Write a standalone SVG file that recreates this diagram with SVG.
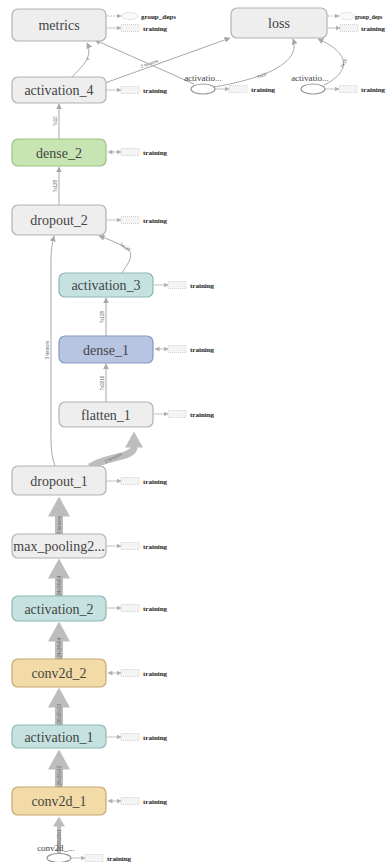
<svg xmlns="http://www.w3.org/2000/svg" width="388" height="862" viewBox="0 0 388 862">
<style>
.bg{fill:#ffffff}
.node{stroke-width:1.2}
.gray{fill:#eeeeee;stroke:#b2b2b2}
.green{fill:#c7e5b3;stroke:#98c282}
.teal{fill:#c5e2e0;stroke:#8db7b5}
.blue{fill:#b7c5e2;stroke:#8797c4}
.orange{fill:#f3dba8;stroke:#c8a76c}
.lbl{font-family:'Liberation Serif','Times New Roman',serif;font-size:14px;fill:#444;text-anchor:middle}
.olbl{font-family:'Liberation Serif','Times New Roman',serif;font-size:9px;fill:#444;text-anchor:middle}
.side{font-family:'Liberation Serif','Times New Roman',serif;font-size:7px;font-weight:bold;fill:#222}
.srect{fill:#f4f4f4;stroke:#c8c8c8;stroke-width:0.8;stroke-dasharray:1 1}
.sell{fill:#fafafa;stroke:#c8c8c8;stroke-width:0.8;stroke-dasharray:2 1}
.sline{stroke:#b0b0b0;stroke-width:0.8;fill:none}
.sdash{stroke:#b0b0b0;stroke-width:0.8;fill:none;stroke-dasharray:2 1}
.thin{stroke:#a8a8a8;stroke-width:1;fill:none}
.thick{stroke:#bdbdbd;stroke-width:8;fill:none}
.mid{stroke:#bdbdbd;stroke-width:7;fill:none}
.small{stroke:#bdbdbd;stroke-width:4;fill:none}
.elbl{font-family:'Liberation Sans',Arial,sans-serif;font-size:4.5px;fill:#666;text-anchor:middle}
.oval{fill:#ffffff;stroke:#999;stroke-width:1.2}
</style>
<defs>
<marker id="ah" markerUnits="userSpaceOnUse" viewBox="0 0 10 10" markerWidth="6" markerHeight="6" refX="9" refY="5" orient="auto"><path d="M0,0 L10,5 L0,10 z" fill="#a8a8a8"/></marker>
<marker id="ahs" markerUnits="userSpaceOnUse" viewBox="0 0 10 10" markerWidth="5" markerHeight="5" refX="9" refY="5" orient="auto"><path d="M0,0 L10,5 L0,10 z" fill="#b0b0b0"/></marker>
<marker id="ahsr" markerUnits="userSpaceOnUse" viewBox="0 0 10 10" markerWidth="5" markerHeight="5" refX="1" refY="5" orient="auto"><path d="M10,0 L0,5 L10,10 z" fill="#b0b0b0"/></marker>
<marker id="big" markerUnits="userSpaceOnUse" viewBox="0 0 20 22" markerWidth="20" markerHeight="22" refX="0.5" refY="11" orient="auto"><path d="M0,0 L20,11 L0,22 z" fill="#bdbdbd"/></marker>
<marker id="mbig" markerUnits="userSpaceOnUse" viewBox="0 0 16 18" markerWidth="16" markerHeight="18" refX="0.5" refY="9" orient="auto"><path d="M0,0 L16,9 L0,18 z" fill="#bdbdbd"/></marker>
<marker id="sbig" markerUnits="userSpaceOnUse" viewBox="0 0 10 12" markerWidth="10" markerHeight="12" refX="0.5" refY="6" orient="auto"><path d="M0,0 L10,6 L0,12 z" fill="#bdbdbd"/></marker>
</defs>
<rect class="bg" x="0" y="0" width="388" height="862"/>

<g id="connectors">
  <path class="thin" d="M72,77 C80,68 94,58 87,43" marker-end="url(#ah)"/>
  <text class="elbl" x="90" y="60" transform="rotate(-70 90 60)">?</text>
  <path class="thin" d="M105,83 L230,38" marker-end="url(#ah)"/>
  <text class="elbl" x="150" y="65" transform="rotate(-19 150 65)">2 tensors</text>
  <path class="thin" d="M194,84 L95,40" marker-end="url(#ah)"/>
  <path class="thin" d="M214,87 C255,80 302,66 293,39" marker-end="url(#ah)"/>
  <text class="elbl" x="262" y="77" transform="rotate(-20 262 77)">?x10</text>
  <path class="thin" d="M324,85 C347,74 355,55 318,39" marker-end="url(#ah)"/>
  <text class="elbl" x="345" y="64" transform="rotate(-65 345 64)">?x10</text>
  <path class="thin" d="M59,139 L59,104" marker-end="url(#ah)"/>
  <text class="elbl" x="57" y="121" transform="rotate(-90 57 121)">?x10</text>
  <path class="thin" d="M59,205 L59,167" marker-end="url(#ah)"/>
  <text class="elbl" x="57" y="186" transform="rotate(-90 57 186)">?x128</text>
  <path class="thin" d="M122,273 C128,263 136,254 126,248 C118,243 108,239 99,236" marker-end="url(#ah)"/>
  <text class="elbl" x="124" y="248" transform="rotate(35 124 248)">?x128</text>
  <path class="thin" d="M55,466 C50,452 51,440 51,420 L51,262 C51,250 52,244 54,236" marker-end="url(#ah)"/>
  <text class="elbl" x="49" y="350" transform="rotate(-90 49 350)">3 tensors</text>
  <path class="thin" d="M106,336 L106,298" marker-end="url(#ah)"/>
  <text class="elbl" x="104" y="317" transform="rotate(-90 104 317)">?x128</text>
  <path class="thin" d="M106,402 L106,364" marker-end="url(#ah)"/>
  <text class="elbl" x="104" y="383" transform="rotate(-90 104 383)">?x9216</text>
  <path class="mid" d="M90,467 C106,456 134,458 134,447" marker-end="url(#mbig)"/>
  <text class="elbl" x="114" y="459" transform="rotate(-25 114 459)">2 tensors</text>
  <path class="thick" d="M59,534 L59,516" marker-end="url(#big)"/>
  <text class="elbl" x="60.5" y="525" transform="rotate(-90 60.5 525)">2 tensors</text>
  <path class="thick" d="M59,596 L59,578" marker-end="url(#big)"/>
  <text class="elbl" x="60.5" y="588" transform="rotate(-90 60.5 588)">?x24x24x64</text>
  <path class="thick" d="M59,659 L59,641" marker-end="url(#big)"/>
  <text class="elbl" x="60.5" y="650" transform="rotate(-90 60.5 650)">?x24x24x64</text>
  <path class="thick" d="M59,725 L59,707" marker-end="url(#big)"/>
  <text class="elbl" x="60.5" y="716" transform="rotate(-90 60.5 716)">?x26x26x32</text>
  <path class="thick" d="M59,787 L59,769" marker-end="url(#big)"/>
  <text class="elbl" x="60.5" y="778" transform="rotate(-90 60.5 778)">?x26x26x32</text>
  <path class="small" d="M59,853 L59,826" marker-end="url(#sbig)"/>
  <text class="elbl" x="60.5" y="840" transform="rotate(-90 60.5 840)">?x28x28x1</text>
</g>

<g id="metrics">
  <rect class="node gray" x="12" y="9" width="94" height="32" rx="6"/>
  <text class="lbl" x="59" y="30">metrics</text>
  <path class="sdash" d="M107,16 L121,16" marker-end="url(#ahs)"/>
  <ellipse class="sell" cx="130" cy="16" rx="8" ry="3.5"/>
  <text class="side" x="141" y="18.5">group_deps</text>
  <path class="sline" d="M107,28 L121,28" marker-end="url(#ahs)"/>
  <rect class="srect" x="121" y="24.5" width="18" height="7"/>
  <text class="side" x="143" y="30.5">training</text>
</g>

<g id="loss">
  <rect class="node gray" x="231" y="8" width="96" height="30" rx="6"/>
  <text class="lbl" x="279" y="28">loss</text>
  <path class="sdash" d="M328,16 L339,16" marker-end="url(#ahs)"/>
  <ellipse class="sell" cx="347" cy="16" rx="7.5" ry="3.5"/>
  <text class="side" x="355" y="18.5" style="font-size:5.5px">group_deps</text>
  <path class="sline" d="M328,28 L340,28" marker-end="url(#ahs)"/>
  <rect class="srect" x="340" y="24.5" width="18" height="7"/>
  <text class="side" x="361" y="30.5">training</text>
</g>

<g id="activation_out_1">
  <text class="olbl" x="203" y="81">activatio...</text>
  <ellipse class="oval" cx="203" cy="89" rx="12" ry="5"/>
  <path class="sline" d="M215,89 L229,89" marker-end="url(#ahs)"/>
  <rect class="srect" x="229" y="85.5" width="18" height="7"/>
  <text class="side" x="251" y="91.5">training</text>
</g>

<g id="activation_out_2">
  <text class="olbl" x="310" y="81">activatio...</text>
  <ellipse class="oval" cx="313" cy="89" rx="12" ry="5"/>
  <path class="sline" d="M325,89 L339,89" marker-end="url(#ahs)"/>
  <rect class="srect" x="339" y="85.5" width="18" height="7"/>
  <text class="side" x="361" y="91.5">training</text>
</g>

<g id="activation_4">
  <rect class="node gray" x="12" y="77" width="94" height="26" rx="6"/>
  <text class="lbl" x="59" y="95">activation_4</text>
  <path class="sline" d="M107,90 L121,90" marker-end="url(#ahs)"/>
  <rect class="srect" x="121" y="86.5" width="18" height="7"/>
  <text class="side" x="143" y="92.5">training</text>
</g>

<g id="dense_2">
  <rect class="node green" x="12" y="139" width="94" height="27" rx="6"/>
  <text class="lbl" x="59" y="157.5">dense_2</text>
  <path class="sline" d="M108,152 L121,152" marker-start="url(#ahsr)" marker-end="url(#ahs)"/>
  <rect class="srect" x="121" y="148.5" width="18" height="7"/>
  <text class="side" x="143" y="154.5">training</text>
</g>

<g id="dropout_2">
  <rect class="node gray" x="12" y="205" width="94" height="30" rx="6"/>
  <text class="lbl" x="59" y="225">dropout_2</text>
  <path class="sline" d="M107,220 L121,220" marker-end="url(#ahs)"/>
  <rect class="srect" x="121" y="216.5" width="18" height="7"/>
  <text class="side" x="143" y="222.5">training</text>
</g>

<g id="activation_3">
  <rect class="node teal" x="59" y="273" width="94" height="24" rx="6"/>
  <text class="lbl" x="106" y="290">activation_3</text>
  <path class="sline" d="M154,285 L168,285" marker-end="url(#ahs)"/>
  <rect class="srect" x="168" y="281.5" width="18" height="7"/>
  <text class="side" x="190" y="287.5">training</text>
</g>

<g id="dense_1">
  <rect class="node blue" x="59" y="336" width="94" height="27" rx="6"/>
  <text class="lbl" x="106" y="354.5">dense_1</text>
  <path class="sline" d="M155,349 L168,349" marker-start="url(#ahsr)" marker-end="url(#ahs)"/>
  <rect class="srect" x="168" y="345.5" width="18" height="7"/>
  <text class="side" x="190" y="351.5">training</text>
</g>

<g id="flatten_1">
  <rect class="node gray" x="59" y="402" width="94" height="25" rx="6"/>
  <text class="lbl" x="106" y="419.5">flatten_1</text>
  <path class="sline" d="M154,414 L168,414" marker-end="url(#ahs)"/>
  <rect class="srect" x="168" y="410.5" width="18" height="7"/>
  <text class="side" x="190" y="416.5">training</text>
</g>

<g id="dropout_1">
  <rect class="node gray" x="12" y="466" width="94" height="29" rx="6"/>
  <text class="lbl" x="59" y="485.5">dropout_1</text>
  <path class="sline" d="M107,481 L121,481" marker-end="url(#ahs)"/>
  <rect class="srect" x="121" y="477.5" width="18" height="7"/>
  <text class="side" x="143" y="483.5">training</text>
</g>

<g id="max_pooling2d_1">
  <rect class="node gray" x="12" y="534" width="94" height="24" rx="6"/>
  <text class="lbl" x="59" y="551">max_pooling2...</text>
  <path class="sline" d="M107,546 L121,546" marker-end="url(#ahs)"/>
  <rect class="srect" x="121" y="542.5" width="18" height="7"/>
  <text class="side" x="143" y="548.5">training</text>
</g>

<g id="activation_2">
  <rect class="node teal" x="12" y="596" width="94" height="25" rx="6"/>
  <text class="lbl" x="59" y="613.5">activation_2</text>
  <path class="sline" d="M107,608 L121,608" marker-end="url(#ahs)"/>
  <rect class="srect" x="121" y="604.5" width="18" height="7"/>
  <text class="side" x="143" y="610.5">training</text>
</g>

<g id="conv2d_2">
  <rect class="node orange" x="12" y="659" width="94" height="28" rx="6"/>
  <text class="lbl" x="59" y="678">conv2d_2</text>
  <path class="sline" d="M108,673 L121,673" marker-start="url(#ahsr)" marker-end="url(#ahs)"/>
  <rect class="srect" x="121" y="669.5" width="18" height="7"/>
  <text class="side" x="143" y="675.5">training</text>
</g>

<g id="activation_1">
  <rect class="node teal" x="12" y="725" width="94" height="23" rx="6"/>
  <text class="lbl" x="59" y="741.5">activation_1</text>
  <path class="sline" d="M107,737 L121,737" marker-end="url(#ahs)"/>
  <rect class="srect" x="121" y="733.5" width="18" height="7"/>
  <text class="side" x="143" y="739.5">training</text>
</g>

<g id="conv2d_1">
  <rect class="node orange" x="12" y="787" width="94" height="28" rx="6"/>
  <text class="lbl" x="59" y="806">conv2d_1</text>
  <path class="sline" d="M108,801 L121,801" marker-start="url(#ahsr)" marker-end="url(#ahs)"/>
  <rect class="srect" x="121" y="797.5" width="18" height="7"/>
  <text class="side" x="143" y="803.5">training</text>
</g>

<g id="conv2d_input">
  <text class="olbl" x="56" y="851">conv2d_...</text>
  <ellipse class="oval" cx="59" cy="858" rx="12" ry="4.5"/>
  <path class="sline" d="M71,858 L85,858" marker-end="url(#ahs)"/>
  <rect class="srect" x="85" y="854.5" width="18" height="7"/>
  <text class="side" x="107" y="860.5">training</text>
</g>
</svg>
